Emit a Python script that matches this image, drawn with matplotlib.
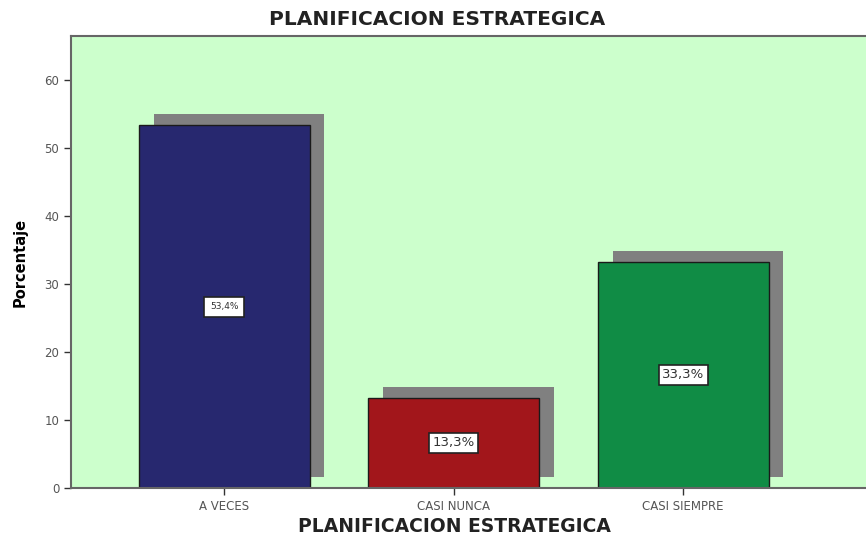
import numpy as np
from matplotlib import pyplot as plt

plt.rcParams['font.family'] = ['DejaVu Sans']

categorias = ['A VECES', 'CASI NUNCA', 'CASI SIEMPRE']
porcentajes = [53.4, 13.3, 33.3]
etiquetas = ['53,4%', '13,3%', '33,3%']
colores = ['#27286f', '#a2161b', '#108c45']

fig = plt.figure(figsize=(8.66, 5.37), dpi=100)
ax = fig.add_axes([0.082, 0.091, 0.918, 0.842])
ax.set_facecolor('#ccffcc')

x = np.arange(len(categorias))
ancho = 0.745

# sombra gris detras de cada barra
ax.bar(x + 0.065, porcentajes, width=ancho, bottom=1.6, color='#808080', zorder=1)
ax.bar(x, porcentajes, width=ancho, color=colores, edgecolor='#1a1a1a', linewidth=1, zorder=2)

for i, (v, t) in enumerate(zip(porcentajes, etiquetas)):
    fs, pad = (6.5, 0.6) if i == 0 else (9.5, 0.25)
    ax.text(x[i], v / 2, t, ha='center', va='center', fontsize=fs, color='#333333', zorder=3,
            bbox=dict(boxstyle='square,pad=%s' % pad, facecolor='white', edgecolor='#222222', linewidth=1.2))

ax.set_xlim(-0.667, 2.797)
ax.set_ylim(0, 66.5)
ax.set_yticks(range(0, 61, 10))
ax.set_xticks(x)
ax.set_xticklabels(categorias)
ax.tick_params(axis='both', colors='#333333', labelcolor='#555555', labelsize=8.5, length=5, width=1)

for s in ['left', 'bottom', 'top']:
    ax.spines[s].set_color('#666666')
    ax.spines[s].set_linewidth(1.5)
ax.spines['right'].set_visible(False)

ax.set_ylabel('Porcentaje', fontsize=10.5, fontweight='bold', labelpad=12)
fig.text(0.525, 0.019, 'PLANIFICACION ESTRATEGICA', ha='center', va='center',
         fontsize=13.5, fontweight='bold', color='#222222')
fig.text(0.505, 0.963, 'PLANIFICACION ESTRATEGICA', ha='center', va='center',
         fontsize=14.5, fontweight='bold', color='#222222')

plt.savefig('out.png', dpi=100)
